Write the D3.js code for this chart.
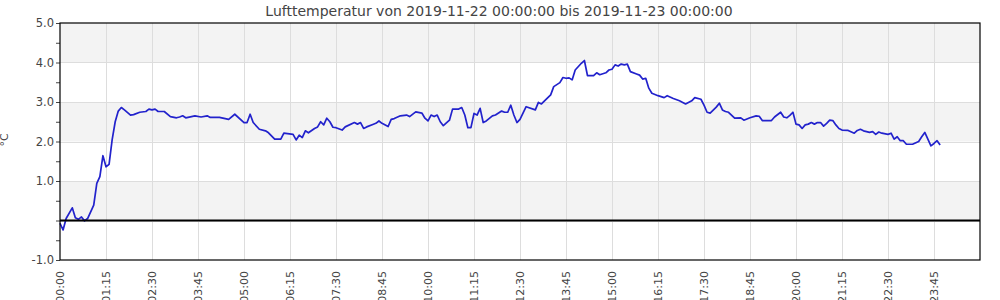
<!DOCTYPE html>
<html>
<head>
<meta charset="utf-8">
<script src="https://cdn.jsdelivr.net/npm/d3@7"></script>
<style>
  html, body { margin: 0; padding: 0; background: #fff; }
  svg { display: block; font-family: "DejaVu Sans", sans-serif; }
</style>
</head>
<body>
<svg id="chart" width="1000" height="300"></svg>
<script>
const titleText = "Lufttemperatur von 2019-11-22 00:00:00 bis 2019-11-23 00:00:00";
const yAxisLabel = "°C";
const yTickValues = [-1, 0, 1, 2, 3, 4, 5];
const yTickLabels = ["-1.0", "", "1.0", "2.0", "3.0", "4.0", "5.0"];
const xTickLabels = ["00:00","01:15","02:30","03:45","05:00","06:15","07:30","08:45","10:00","11:15","12:30","13:45","15:00","16:15","17:30","18:45","20:00","21:15","22:30","23:45"];

const times = ["00:00","00:05","00:10","00:20","00:25","00:30","00:35","00:40","00:45","00:55","01:00","01:05","01:10","01:15","01:20","01:25","01:30","01:35","01:40","01:45","01:55","02:00","02:10","02:20","02:25","02:30","02:35","02:40","02:50","03:00","03:10","03:15","03:20","03:25","03:40","03:50","04:00","04:05","04:20","04:35","04:45","05:00","05:05","05:10","05:15","05:25","05:35","05:40","05:50","06:00","06:05","06:20","06:25","06:30","06:35","06:40","06:45","06:55","07:00","07:05","07:10","07:15","07:20","07:25","07:30","07:40","07:45","08:00","08:05","08:10","08:15","08:20","08:30","08:35","08:40","08:45","08:55","09:00","09:05","09:15","09:25","09:30","09:40","09:50","09:55","10:00","10:05","10:10","10:15","10:20","10:25","10:35","10:40","10:50","10:55","11:00","11:05","11:10","11:15","11:20","11:25","11:30","11:35","11:45","11:50","12:00","12:05","12:10","12:15","12:20","12:25","12:30","12:40","12:55","13:00","13:05","13:20","13:25","13:35","13:40","13:45","13:50","13:55","14:00","14:10","14:15","14:20","14:30","14:35","14:40","14:50","14:55","15:00","15:05","15:10","15:15","15:20","15:25","15:30","15:40","15:45","15:50","15:55","16:00","16:05","16:15","16:25","16:30","16:40","16:50","17:00","17:10","17:15","17:25","17:30","17:35","17:40","17:50","17:55","18:00","18:05","18:10","18:20","18:30","18:35","18:45","18:55","19:00","19:05","19:20","19:25","19:35","19:40","19:45","19:50","19:55","20:00","20:05","20:10","20:15","20:20","20:25","20:30","20:35","20:40","20:45","20:50","20:55","21:00","21:05","21:10","21:15","21:25","21:35","21:40","21:45","21:50","22:00","22:05","22:10","22:15","22:20","22:30","22:35","22:40","22:45","22:50","22:55","23:00","23:10","23:20","23:25","23:30","23:35","23:40","23:45","23:50","23:55","24:00"];
const values = [-0.07,-0.24,0.05,0.32,0.07,0.03,0.09,-0.01,0.05,0.39,0.94,1.11,1.64,1.36,1.42,2.04,2.50,2.77,2.86,2.80,2.67,2.68,2.74,2.76,2.82,2.80,2.82,2.76,2.76,2.63,2.60,2.62,2.65,2.60,2.65,2.62,2.65,2.61,2.61,2.56,2.69,2.48,2.48,2.69,2.48,2.31,2.27,2.22,2.06,2.06,2.21,2.18,2.04,2.16,2.10,2.27,2.22,2.33,2.37,2.50,2.42,2.59,2.50,2.36,2.35,2.29,2.37,2.48,2.44,2.48,2.33,2.37,2.43,2.46,2.52,2.46,2.38,2.56,2.58,2.65,2.67,2.63,2.75,2.72,2.59,2.52,2.67,2.63,2.67,2.50,2.40,2.54,2.82,2.82,2.86,2.67,2.35,2.35,2.71,2.67,2.84,2.48,2.52,2.65,2.67,2.77,2.74,2.74,2.92,2.67,2.48,2.56,2.88,2.80,2.99,2.95,3.18,3.39,3.49,3.62,3.60,3.61,3.56,3.81,3.98,4.05,3.67,3.67,3.74,3.69,3.74,3.81,3.83,3.94,3.91,3.96,3.94,3.96,3.77,3.71,3.68,3.58,3.60,3.35,3.22,3.16,3.11,3.16,3.09,3.03,2.95,3.03,3.11,3.07,2.92,2.74,2.72,2.87,2.97,2.80,2.76,2.74,2.59,2.60,2.54,2.60,2.65,2.64,2.53,2.53,2.62,2.74,2.62,2.60,2.66,2.74,2.44,2.42,2.33,2.42,2.44,2.48,2.44,2.48,2.48,2.39,2.46,2.54,2.53,2.42,2.33,2.29,2.28,2.21,2.28,2.31,2.27,2.23,2.25,2.18,2.24,2.21,2.18,2.21,2.06,2.12,2.02,2.02,1.93,1.93,2.00,2.12,2.23,2.06,1.89,1.95,2.02,1.91];

const toMin = s => { const [h, m] = s.split(":").map(Number); return h * 60 + m; };
const data = times.map((t, i) => ({ t: toMin(t), v: values[i] }));

const svg = d3.select("#chart");
const m = { left: 60, right: 20, top: 23, bottom: 40 };
const W = 1000, H = 300;
const pw = W - m.left - m.right, ph = H - m.top - m.bottom;

const x = d3.scaleLinear().domain([0, 1500]).range([m.left, m.left + pw]);
const y = d3.scaleLinear().domain([-1, 5]).range([m.top + ph, m.top]);
const xTickVals = xTickLabels.map(toMin);

// Bands
const bands = [[0, 1], [2, 3], [4, 5]];
svg.append("g").selectAll("rect").data(bands).join("rect")
  .attr("x", m.left).attr("width", pw)
  .attr("y", d => y(d[1])).attr("height", d => y(d[0]) - y(d[1]))
  .attr("fill", "#f3f3f3");

// Grid
const grid = svg.append("g").attr("stroke", "#dddddd").attr("stroke-width", 1);
grid.selectAll("line.h").data(yTickValues.filter(v => v > -1 && v < 5)).join("line")
  .attr("x1", m.left).attr("x2", m.left + pw)
  .attr("y1", d => Math.round(y(d)) + 0.5).attr("y2", d => Math.round(y(d)) + 0.5);
grid.selectAll("line.v").data(xTickVals.filter(v => v > 0)).join("line")
  .attr("x1", d => Math.round(x(d)) + 0.5).attr("x2", d => Math.round(x(d)) + 0.5)
  .attr("y1", m.top).attr("y2", m.top + ph);

// Y axis
const yAxis = d3.axisLeft(y)
  .tickValues(d3.range(-1, 5.01, 0.5))
  .tickSize(4)
  .tickFormat(d => { const i = yTickValues.indexOf(d); return i >= 0 ? yTickLabels[i] : ""; });
const gy = svg.append("g").attr("transform", `translate(${m.left},0)`).call(yAxis);
gy.select(".domain").remove();
gy.selectAll("line").attr("stroke", "#444");
gy.selectAll("text").attr("fill", "#444").attr("font-size", 11.5).attr("x", -6)
  .attr("font-family", "DejaVu Sans, sans-serif");

// X axis
const xAxis = d3.axisBottom(x).tickValues(xTickVals).tickSize(0).tickFormat((d, i) => xTickLabels[i]);
const gx = svg.append("g").attr("transform", `translate(0,${m.top + ph})`).call(xAxis);
gx.select(".domain").remove();
gx.selectAll("text")
  .attr("fill", "#444").attr("font-size", 11).attr("font-family", "DejaVu Sans, sans-serif")
  .attr("transform", "rotate(-90)")
  .attr("text-anchor", "end")
  .attr("x", -11).attr("y", 0).attr("dy", "0.35em");
gx.selectAll("text").attr("text-anchor", "end");

// Line
const line = d3.line().x(d => x(d.t)).y(d => y(d.v));
svg.append("path").datum(data)
  .attr("fill", "none").attr("stroke", "#2222cc").attr("stroke-width", 1.7)
  .attr("stroke-linejoin", "round")
  .attr("d", line);

// Zero line
svg.append("line")
  .attr("x1", m.left).attr("x2", m.left + pw)
  .attr("y1", y(0)).attr("y2", y(0))
  .attr("stroke", "#000").attr("stroke-width", 2.2);

// Frame
svg.append("rect")
  .attr("x", m.left).attr("y", m.top).attr("width", pw).attr("height", ph)
  .attr("fill", "none").attr("stroke", "#000").attr("stroke-width", 1.2);

// Title
svg.append("text").attr("x", 499).attr("y", 16).attr("text-anchor", "middle")
  .attr("font-size", 14).attr("fill", "#444").text(titleText);

// Y label
svg.append("text").attr("transform", "translate(8,140) rotate(-90)")
  .attr("text-anchor", "middle").attr("font-size", 11).attr("fill", "#444").text(yAxisLabel);
</script>
</body>
</html>
